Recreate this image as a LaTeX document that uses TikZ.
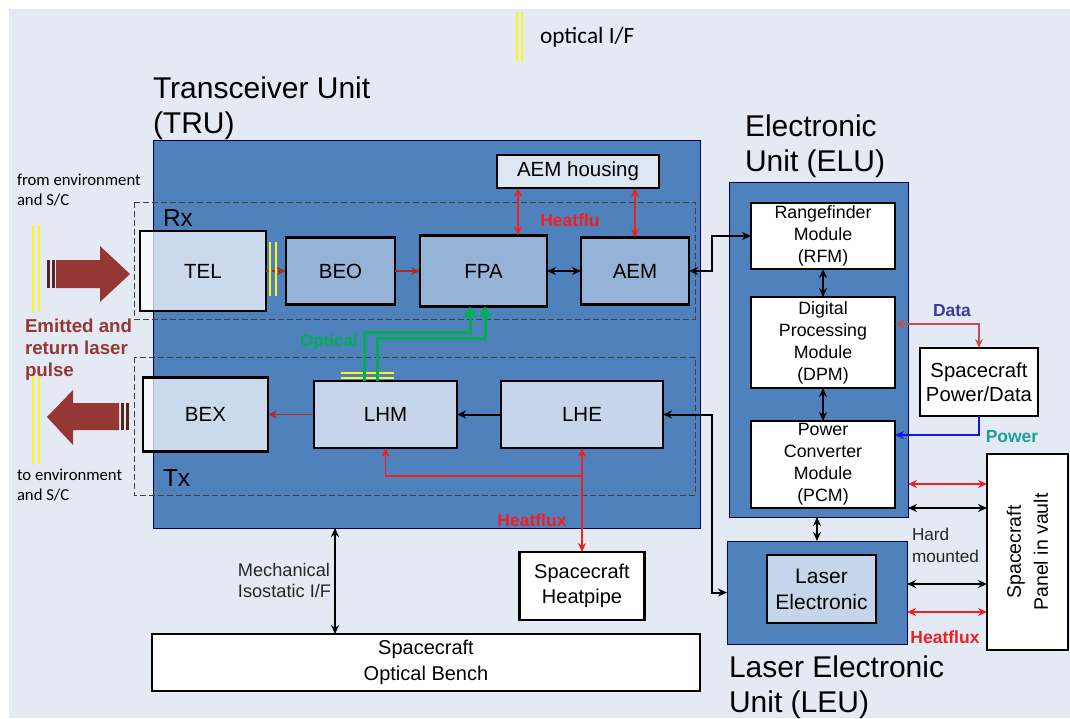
\documentclass[tikz,border=0pt]{standalone}
\usepackage{fontspec}
\setmainfont{Liberation Sans}
\newfontfamily\calibri{Carlito}
\usetikzlibrary{arrows.meta, calc}

\definecolor{bgblue}{HTML}{E4EAF4}
\definecolor{unitblue}{HTML}{4F81BD}
\definecolor{midblue}{HTML}{95B3D7}
\definecolor{paleblue}{HTML}{C6D5EA}
\definecolor{housing}{HTML}{DCE6F2}
\definecolor{pulsered}{HTML}{953735}
\definecolor{stripe}{HTML}{5A2220}
\definecolor{heatred}{HTML}{F02020}
\definecolor{optgreen}{HTML}{00B050}
\definecolor{datared}{HTML}{C0504D}
\definecolor{powblue}{HTML}{1414E6}
\definecolor{datatxt}{HTML}{3C3C9C}
\definecolor{powtxt}{HTML}{1E9E9E}
\definecolor{ifyellow}{HTML}{F8F820}

\begin{document}
\begin{tikzpicture}[
    x=1pt, y=-1pt,
    every node/.style={inner sep=0pt, outer sep=0pt},
    >={Stealth[length=9pt,width=8pt]},
    unit/.style={draw=black!70!blue, line width=0.8pt, fill=unitblue},
    zone/.style={draw=black!75, line width=0.8pt, dash pattern=on 6pt off 3pt},
    block/.style={draw=black, line width=2.2pt, align=center,
        font=\fontsize{20.5}{25}\selectfont},
    module/.style={block, fill=white, minimum width=144pt,
        font=\fontsize{17.8}{22}\selectfont},
    title/.style={anchor=north west, align=left, font=\fontsize{30}{35}\selectfont},
    sig/.style={black, line width=2pt},
    pulse/.style={pulsered!80!red, line width=1.8pt},
    heat/.style={heatred, line width=1.8pt},
    optic/.style={optgreen, line width=3pt, -{Triangle[length=10pt,width=13pt]}},
    ifline/.style={ifyellow, line width=2.6pt},
    heatlbl/.style={text=heatred, font=\bfseries\fontsize{17.5}{20}\selectfont},
    sidelbl/.style={anchor=north west, align=left, font=\calibri\fontsize{16.7}{20}\selectfont}
]

% Parameters
\def\busx{712}   % vertical bus between TRU and ELU

% === Background ===
\fill[white] (0,0) rectangle (1070,718);
\fill[bgblue] (9,9) rectangle (1070,718);
\useasboundingbox (0,0) rectangle (1070,718);

% === Legend ===
\foreach \xx in {517,522}
    \draw[ifline] (\xx,12) -- (\xx,62);
\node[anchor=west, font=\calibri\fontsize{23.3}{26}\selectfont] (legend) at (540,37) {optical I/F};

% === Transceiver unit ===
\node[title] (trutitle) at (153,77) {Transceiver Unit\\(TRU)};
\node[unit, minimum width=547pt, minimum height=388pt] (tru) at (426.5,334) {};

\draw[zone] (134,202) rectangle (695,319);
\draw[zone] (134,357) rectangle (695,495);
\node[anchor=west, font=\fontsize{24.5}{28}\selectfont] (rx) at (163,218) {Rx};
\node[anchor=west, font=\fontsize{24.5}{28}\selectfont] (tx) at (163,478) {Tx};

% Rx chain
\node[block, fill=white, fill opacity=0.7, text opacity=1,
      minimum width=126pt, minimum height=80pt] (tel) at (203,271) {TEL};
\node[block, fill=midblue, minimum width=109pt, minimum height=67pt] (beo) at (340.5,271) {BEO};
\node[block, fill=midblue, minimum width=127pt, minimum height=71pt] (fpa) at (483.5,271) {FPA};
\node[block, fill=midblue, minimum width=108pt, minimum height=67pt] (aem) at (635,271) {AEM};
\node[block, fill=housing, minimum width=162pt, minimum height=33pt] (aemh) at (578,171.5) {AEM housing};

% Tx chain
\node[block, fill=white, fill opacity=0.7, text opacity=1,
      minimum width=125pt, minimum height=74pt] (bex) at (205.5,414.5) {BEX};
\node[block, fill=paleblue, minimum width=143pt, minimum height=67pt] (lhm) at (385.5,414.5) {LHM};
\node[block, fill=paleblue, minimum width=162pt, minimum height=67pt] (lhe) at (582,414.5) {LHE};

% Optical interfaces
\foreach \xx in {270,276}
    \draw[ifline] (\xx,242) -- (\xx,296);
\foreach \yy in {373,378}
    \draw[ifline] (341,\yy) -- (394,\yy);

% === Electronic unit ===
\node[title] (elutitle) at (745,115) {Electronic\\Unit (ELU)};
\node[unit, minimum width=179pt, minimum height=335pt] (elu) at (818.5,349.5) {};
\node[module, minimum height=66pt] (rfm) at (823,236) {Rangefinder\\Module\\(RFM)};
\node[module, minimum height=91pt] (dpm) at (823,342.5) {Digital\\Processing\\Module\\(DPM)};
\node[module, minimum height=87pt] (pcm) at (823,464.5) {Power\\Converter\\Module\\(PCM)};

% === Laser electronic unit ===
\node[unit, minimum width=180pt, minimum height=103pt] (leu) at (817,592.5) {};
\node[block, fill=paleblue, minimum width=109pt, minimum height=68pt,
      font=\fontsize{21}{26}\selectfont] (laser) at (821.5,589) {Laser\\Electronic};
\node[title] (leutitle) at (729,656) {Laser Electronic\\Unit (LEU)};

% === Spacecraft side ===
\node[block, fill=white, minimum width=118pt, minimum height=68pt,
      font=\fontsize{20.3}{24}\selectfont] (scpd) at (979,382) {Spacecraft\\Power/Data};
\node[block, fill=white, minimum width=81pt, minimum height=196pt] (panel) at (1027.5,552) {};
\node[rotate=90, align=center, font=\fontsize{19.5}{27}\selectfont] (paneltxt) at (panel.center) {Spacecraft\\Panel in vault};
\node[block, fill=white, minimum width=125pt, minimum height=68pt,
      font=\fontsize{20}{25}\selectfont] (heatpipe) at (582,586) {Spacecraft\\Heatpipe};
\node[block, fill=white, minimum width=548pt, minimum height=57pt,
      font=\fontsize{20}{26}\selectfont] (bench) at (426,662.5) {Spacecraft\\Optical Bench};

% === Laser pulse arrows ===
\foreach \xx in {33,39} {
    \draw[ifline] (\xx,225) -- (\xx,312);
    \draw[ifline] (\xx,373) -- (\xx,464);
}
% incoming
\fill[pulsered] (56,260) -- (100,260) -- (100,246) -- (130,274)
    -- (100,302) -- (100,288) -- (56,288) -- cycle;
\fill[stripe] (47,260) rectangle (50,288);
\fill[stripe] (51.5,260) rectangle (54.5,288);
% outgoing
\fill[pulsered] (47,417) -- (73,390) -- (73,403) -- (119,403)
    -- (119,430) -- (73,430) -- (73,445) -- cycle;
\fill[stripe] (121,403) rectangle (124,430);
\fill[stripe] (125.5,403) rectangle (128.5,430);

\node[sidelbl] (fromenv) at (17,174) {from environment\\and S/C};
\node[sidelbl] (toenv) at (17,469) {to environment\\and S/C};
\node[anchor=north west, align=left, text=pulsered,
      font=\bfseries\fontsize{18.7}{22}\selectfont] (pulselbl) at (25,319) {Emitted and\\return laser\\pulse};

% === Connections ===
\coordinate (bus) at (\busx,0);
\draw[pulse, dashed, ->] (tel.east) -- (beo.west);
\draw[pulse, ->] (beo.east) -- (fpa.west);
\draw[sig, <->] (fpa.east) -- (aem.west);
\draw[sig, <->] (aem.east) -- (aem.east -| bus) |- (rfm.west);
\draw[sig, ->] (lhe.west) -- (lhm.east);
\draw[pulse, ->] (lhm.west) -- (bex.east);
\draw[sig, <->] (lhe.east) -- (lhe.east -| bus) |- (leu.west);

% optical feed from LHM to FPA
\draw[optic] ($(lhm.north)+(-21.5,0)$) |- ($(fpa.south)+(-13.5,26)$) -- ($(fpa.south)+(-13.5,0)$);
\draw[optic] ($(lhm.north)+(-8.5,0)$) |- ($(fpa.south)+(1.5,32)$) -- ($(fpa.south)+(1.5,0)$);
\node[text=optgreen, font=\bfseries\fontsize{17}{20}\selectfont] (optlbl) at (329,342) {Optical};

% heat paths
\coordinate (hx) at (518,0);
\draw[heat, <->] (aemh.south -| hx) -- (fpa.north -| hx);
\draw[heat, <->] (aemh.south -| aem.north) -- (aem.north);
\node[heatlbl] (hflu) at (570,220) {Heatflu};
\coordinate (hf) at (0,476);
\draw[heat, ->] (lhe.south |- hf) -| (lhm.south);
\draw[heat, <->] (lhe.south) -- (heatpipe.north);
\node[heatlbl] (hflux) at (532,520) {Heatflux};

% mechanical interface
\coordinate (mech) at (335,0);
\draw[sig, <->] (tru.south -| mech) -- (bench.north -| mech);
\node[anchor=east, align=left, text=black!85, font=\fontsize{18.2}{21}\selectfont] (mechlbl) at (331,580) {Mechanical\\Isostatic I/F};

% electronics
\draw[sig, <->] (rfm.south) -- (dpm.north);
\draw[sig, <->] (dpm.south) -- (pcm.north);
\draw[sig, <->] (leu.north |- elu.south) -- (leu.north);

\coordinate (dy) at (0,324);
\draw[datared, line width=1.8pt, <->] (dpm.east |- dy) -| (scpd.north);
\node[text=datatxt, font=\bfseries\fontsize{17.5}{20}\selectfont] (datalbl) at (952,311) {Data};
\coordinate (py) at (0,435);
\draw[powblue, line width=1.8pt, ->] (scpd.south) |- (pcm.east |- py);
\node[text=powtxt, font=\bfseries\fontsize{17.5}{20}\selectfont] (powlbl) at (1012,437) {Power};

% mounting to panel
\foreach \yy/\st in {484/heat, 508/sig} {
    \coordinate (ry) at (0,\yy);
    \draw[\st, <->] (elu.east |- ry) -- (panel.west |- ry);
}
\foreach \yy/\st in {584/sig, 612/heat} {
    \coordinate (ry) at (0,\yy);
    \draw[\st, <->] (leu.east |- ry) -- (panel.west |- ry);
}
\node[anchor=west, align=left, text=black!85, font=\fontsize{17.2}{22}\selectfont] (hardmnt) at (912,545) {Hard\\mounted};
\node[heatlbl] (hflux2) at (945,637) {Heatflux};

\end{tikzpicture}
\end{document}
